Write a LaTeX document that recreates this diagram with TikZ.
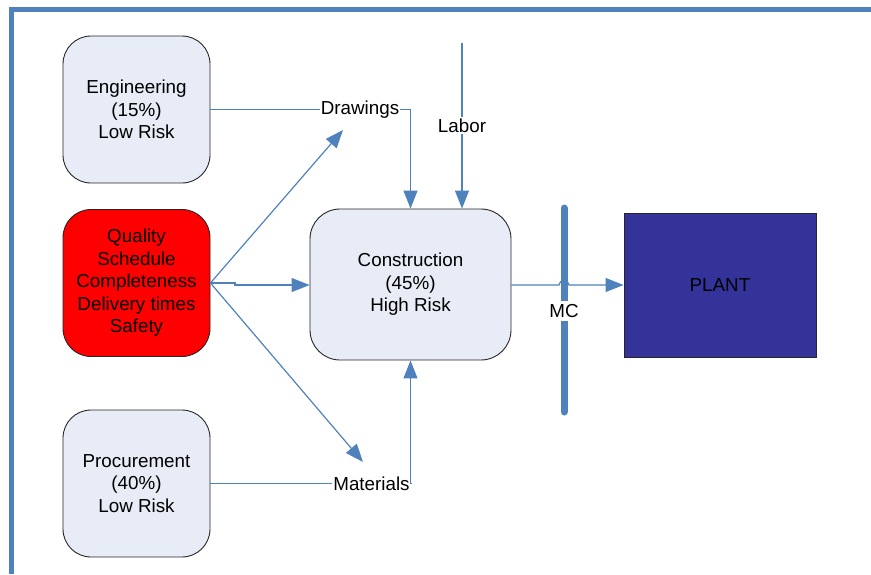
\documentclass[tikz,border=0pt]{standalone}
\usepackage{fontspec}
\setmainfont{Liberation Sans}
\usetikzlibrary{arrows.meta}
\definecolor{linkblue}{HTML}{4F81BD}
\definecolor{boxfill}{HTML}{E7ECF6}
\definecolor{plantblue}{HTML}{333399}
\tikzset{
  txt/.style={font=\fontsize{18.8}{22.5}\selectfont, align=center, text=black},
  area/.style={txt, draw=black!85, line width=0.9pt, rounded corners=28pt, inner sep=0pt},
  flowlabel/.style={txt, inner sep=1pt},
  conn/.style={draw=linkblue, line width=1.2pt},
  arr/.style={conn, -{Triangle[length=18pt,width=14pt]}},
}
\begin{document}
\begin{tikzpicture}[x=1pt,y=-1pt]
\useasboundingbox (0,0) rectangle (871,574);
% outer frame
\draw[linkblue, line width=5pt] (11,574) -- (11,9.7) -- (871,9.7);

% work areas
\node[area, fill=boxfill, minimum width=147pt, minimum height=147pt] (eng) at (136.5,109.5)
  {Engineering\\(15\%)\\Low Risk};
\node[area, fill=red, minimum width=147pt, minimum height=147pt] (qual) at (136.5,283)
  {Quality\\Schedule\\Completeness\\Delivery times\\Safety};
\node[area, fill=boxfill, minimum width=147pt, minimum height=147pt] (proc) at (136.5,483.5)
  {Procurement\\(40\%)\\Low Risk};
\node[area, fill=boxfill, rounded corners=30pt, minimum width=201pt, minimum height=151pt] (cons) at (410.5,284.5)
  {Construction\\(45\%)\\High Risk};
\node[txt, draw=black!85, line width=0.9pt, fill=plantblue, minimum width=192pt, minimum height=144pt] (plant) at (720,285)
  {PLANT};

% flow labels
\node[flowlabel] (drw) at (360,109.5) {Drawings};
\node[flowlabel, fill=white] (lab) at (462,125.5) {Labor};
\node[flowlabel] (mat) at (371.5,483.5) {Materials};

% mechanical completion bar
\draw[linkblue, line width=7pt, line cap=round] (564,208) -- (564,412);
\node[flowlabel, fill=white, inner sep=3pt] (mc) at (564,311) {MC};

% helper points
\coordinate (labtop) at (462,43);
\coordinate (drwtip) at (343,130);
\coordinate (mattip) at (363,462);
\coordinate (jogA) at (235,283);
\coordinate (jogB) at (235,285);
\coordinate (hopA) at (559,285);
\coordinate (hopB) at (569,285);

% flows into construction
\draw[conn] (eng.east) -- (drw.west);
\draw[arr] (drw.east) -| (cons.north);
\draw[conn] (labtop) -- (lab.north);
\draw[arr] (lab.south) -- (lab.south |- cons.north);
\draw[conn] (proc.east) -- (mat.west);
\draw[arr] (mat.east) -| (cons.south);

% requirements
\draw[arr] (qual.east) -- (drwtip);
\draw[arr] (qual.east) -- (jogA) -- (jogB) -- (jogB -| cons.west);
\draw[arr] (qual.east) -- (mattip);

% handover to the plant, hopping over the MC bar
\draw[arr] (cons.east |- hopA) -- (hopA) .. controls (559,279) and (569,279) .. (hopB) -- (plant.west);
\end{tikzpicture}
\end{document}
